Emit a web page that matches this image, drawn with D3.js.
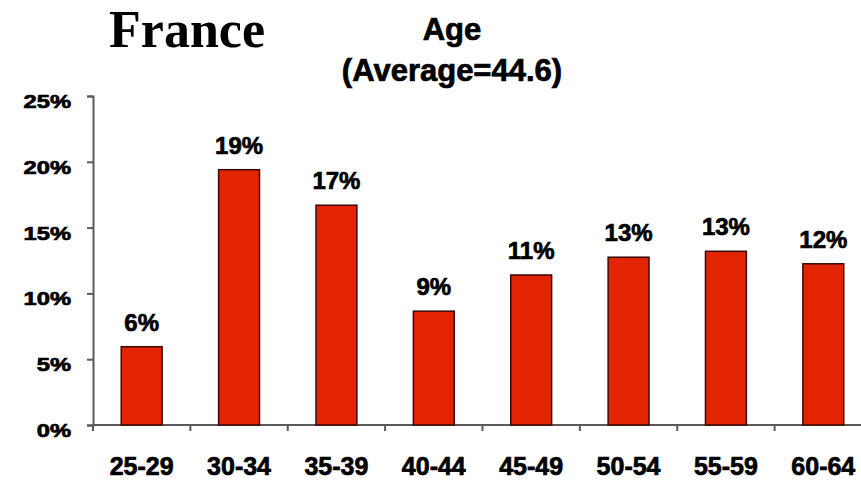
<!DOCTYPE html>
<html>
<head>
<meta charset="utf-8">
<script src="https://cdn.jsdelivr.net/npm/d3@7"></script>
<style>
  html, body { margin: 0; padding: 0; background: #fff; }
  svg { display: block; }
  text.heavy { font-family: "Liberation Sans", Arial, Helvetica, sans-serif; font-weight: bold; fill: #000; stroke: #000; stroke-width: 0.7px; }
</style>
</head>
<body>
<svg id="chart" width="861" height="481"></svg>
<script>
// Age bands and share of respondents (%) in each band
const categories = ["25-29", "30-34", "35-39", "40-44", "45-49", "50-54", "55-59", "60-64"];
const shares = [5.95, 19.4, 16.7, 8.65, 11.4, 12.75, 13.2, 12.25];
const yTicks = [0, 5, 10, 15, 20, 25];
const titleText = "France";
const subtitleLines = ["Age", "(Average=44.6)"];

const svg = d3.select("#chart");
const W = 861, H = 481;
const plot = { left: 93, right: 872, top: 96, bottom: 425 };

const x = d3.scaleBand()
  .domain(categories)
  .range([plot.left, plot.right])
  .paddingInner(0.58)
  .paddingOuter(0.29);

const y = d3.scaleLinear()
  .domain([0, 25])
  .range([plot.bottom, plot.top]);

const axisColor = "#5a5a5a";

// Titles
svg.append("text")
  .attr("x", 187).attr("y", 47)
  .attr("text-anchor", "middle")
  .style("font-family", "'Liberation Serif', 'Times New Roman', serif")
  .style("font-weight", "bold")
  .style("font-size", "52px")
  .text(titleText);

svg.selectAll("text.sub")
  .data(subtitleLines)
  .enter().append("text")
  .attr("class", "sub heavy")
  .attr("x", 452)
  .attr("y", (d, i) => 40 + i * 41)
  .attr("text-anchor", "middle")
  .style("font-size", "31px")
  .text(d => d);

// Y axis
const yAxis = d3.axisLeft(y)
  .tickValues(yTicks)
  .tickSize(6)
  .tickPadding(16)
  .tickFormat(d => d + "%");

const gy = svg.append("g")
  .attr("transform", `translate(${plot.left},0)`)
  .call(yAxis);
gy.attr("font-family", null).attr("font-size", null);
gy.select(".domain").attr("stroke", axisColor).attr("stroke-width", 2);
gy.selectAll(".tick line").attr("stroke", axisColor).attr("stroke-width", 2);
// tick labels are drawn a little wider than tall
const yLabelStretch = 1.25;
gy.selectAll(".tick text")
  .attr("class", "heavy")
  .attr("x", -22 / yLabelStretch)
  .attr("dy", "0.6em")
  .attr("transform", `scale(${yLabelStretch},1)`)
  .style("font-size", "19px");

// X axis line with ticks at category boundaries
const step = x.step();
const gap = (step - x.bandwidth()) / 2;
const boundaries = categories.map(c => x(c) - gap).concat([x(categories[categories.length - 1]) + x.bandwidth() + gap]);

svg.append("line")
  .attr("x1", plot.left).attr("x2", W)
  .attr("y1", y(0)).attr("y2", y(0))
  .attr("stroke", axisColor).attr("stroke-width", 2);

svg.selectAll("line.xtick")
  .data(boundaries)
  .enter().append("line")
  .attr("class", "xtick")
  .attr("x1", d => d).attr("x2", d => d)
  .attr("y1", y(0)).attr("y2", y(0) + 6)
  .attr("stroke", axisColor).attr("stroke-width", 2);

svg.selectAll("text.xlab")
  .data(categories)
  .enter().append("text")
  .attr("class", "xlab heavy")
  .attr("x", d => x(d) + x.bandwidth() / 2)
  .attr("y", 475)
  .attr("text-anchor", "middle")
  .style("font-size", "25px")
  .text(d => d);

// Bars
svg.selectAll("rect.bar")
  .data(shares)
  .enter().append("rect")
  .attr("class", "bar")
  .attr("x", (d, i) => x(categories[i]))
  .attr("y", d => y(d))
  .attr("width", x.bandwidth())
  .attr("height", d => y(0) - y(d))
  .attr("fill", "#e32400")
  .attr("stroke", "#3a0a00")
  .attr("stroke-width", 1.5);

// Value labels
svg.selectAll("text.val")
  .data(shares)
  .enter().append("text")
  .attr("class", "val heavy")
  .attr("x", (d, i) => x(categories[i]) + x.bandwidth() / 2)
  .attr("y", d => y(d) - 16)
  .attr("text-anchor", "middle")
  .style("font-size", "24px")
  .text(d => Math.round(d) + "%");
</script>
</body>
</html>
